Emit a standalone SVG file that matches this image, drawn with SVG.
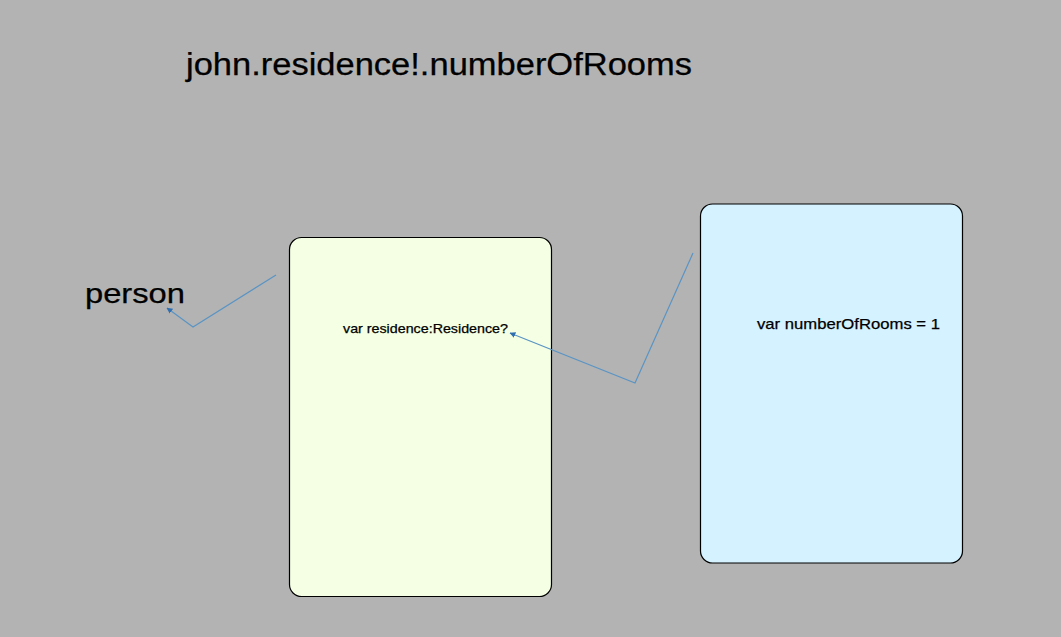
<svg xmlns="http://www.w3.org/2000/svg" width="1061" height="637" viewBox="0 0 1061 637">
<style>
.box{stroke:#000;stroke-width:1.2}
.lbl{font-family:"Liberation Sans",Arial,sans-serif;fill:#000;stroke:#000;stroke-width:0.25}
.con{fill:none;stroke:#5a94c4;stroke-width:1.2}
</style>
<defs>
<marker id="ah" viewBox="0 0 10 10" refX="9" refY="5" markerWidth="6" markerHeight="6" orient="auto" markerUnits="userSpaceOnUse">
<path d="M0,0 L10,5 L0,10 z" fill="#2f6fb0"/>
</marker>
</defs>
<rect width="1061" height="637" fill="#b3b3b3"/>
<g id="title"><text class="lbl" x="186" y="75" font-size="31" textLength="506" lengthAdjust="spacingAndGlyphs">john.residence!.numberOfRooms</text></g>
<g id="person"><text class="lbl" x="85" y="303" font-size="28" textLength="100" lengthAdjust="spacingAndGlyphs">person</text></g>
<g id="residenceBox">
<rect class="box" x="289.5" y="237.5" width="262" height="359" rx="12" fill="#f4ffe3"/>
<text class="lbl" x="343" y="333" font-size="13" textLength="165" lengthAdjust="spacingAndGlyphs">var residence:Residence?</text>
</g>
<g id="roomsBox">
<rect class="box" x="700.5" y="204" width="262" height="359" rx="12" fill="#d4f2ff"/>
<text class="lbl" x="757" y="329" font-size="15" textLength="183" lengthAdjust="spacingAndGlyphs">var numberOfRooms = 1</text>
</g>
<g id="connectors">
<polyline class="con" points="276,275 193,327 167,308" marker-end="url(#ah)"/>
<polyline class="con" points="693,253 635,383 510,333" marker-end="url(#ah)"/>
</g>
</svg>
